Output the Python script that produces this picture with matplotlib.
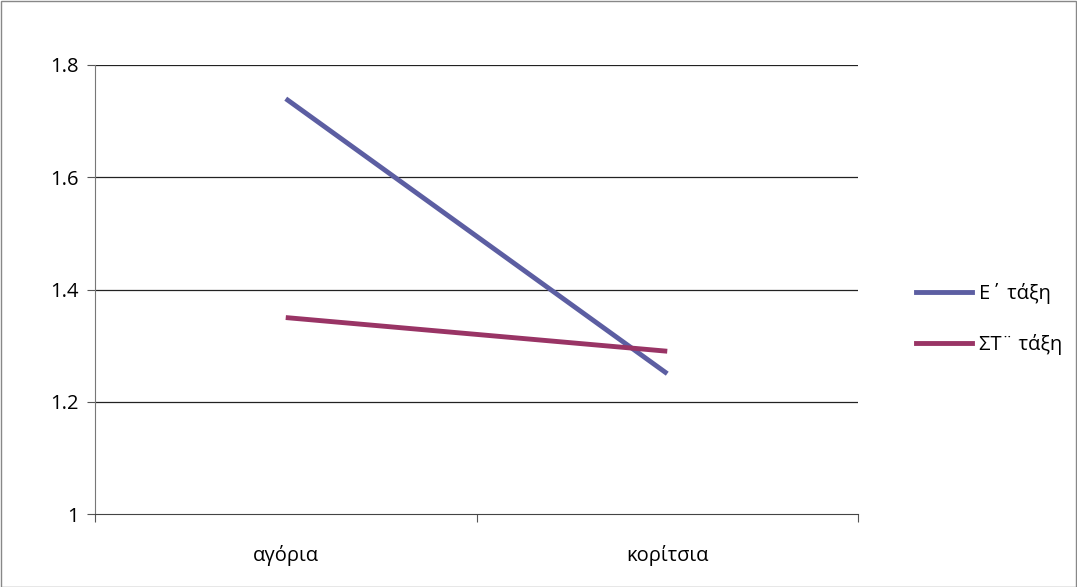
import matplotlib
matplotlib.use("Agg")
import matplotlib.pyplot as plt
from matplotlib.lines import Line2D

categories = ["αγόρια", "κορίτσια"]
series_names = ["Ε΄ τάξη", "ΣΤ¨ τάξη"]
series_e = [1.74, 1.25]
series_st = [1.35, 1.29]
yticks = [1.0, 1.2, 1.4, 1.6, 1.8]
ytick_labels = ["1", "1.2", "1.4", "1.6", "1.8"]

plt.rcParams['font.family'] = ['Open Sans', 'DejaVu Sans']

fig = plt.figure(figsize=(10.77, 5.87), dpi=100)
fig.patches.append(plt.Rectangle((0.0005, 0.0005), 0.999, 0.998, transform=fig.transFigure,
                                 fill=False, edgecolor='#888888', linewidth=1))
ax = fig.add_axes([95/1077, 1-514/587, (858-95)/1077, (514-65)/587])

x = [0.5, 1.5]
c1 = '#5C5EA2'
c2 = '#993465'
ax.plot(x, series_e, color=c1, linewidth=3.5, solid_capstyle='butt', label=series_names[0], zorder=3)
ax.plot(x, series_st, color=c2, linewidth=3.5, solid_capstyle='butt', label=series_names[1], zorder=3)

fs = 14.5
ax.set_xlim(0, 2)
ax.set_ylim(1.0, 1.8)
ax.set_yticks(yticks)
ax.set_yticklabels(ytick_labels, fontsize=fs)
ax.set_xticks([0, 1, 2])
ax.set_xticklabels([])
ax.set_xticks(x, minor=True)
ax.set_xticklabels(categories, minor=True, fontsize=fs)
ax.tick_params(axis='x', which='minor', length=0, pad=22)
ax.tick_params(axis='x', which='major', length=6, color='#555555')
ax.tick_params(axis='y', length=6, color='#555555', pad=6)

for yv in yticks[1:]:
    ax.axhline(yv, color='#222222', linewidth=0.9, zorder=1)

for s in ['top', 'right']:
    ax.spines[s].set_visible(False)
ax.spines['left'].set_color('#777777')
ax.spines['bottom'].set_color('#444444')

handles = [Line2D([0], [0], color=c1, lw=3.5), Line2D([0], [0], color=c2, lw=3.5)]
fig.legend(handles, series_names, loc='center left', bbox_to_anchor=(898/1077, 1-319/587),
           frameon=False, fontsize=fs, handlelength=2.75, handletextpad=0.35, labelspacing=1.45)

fig.savefig("out.png", dpi=100)
